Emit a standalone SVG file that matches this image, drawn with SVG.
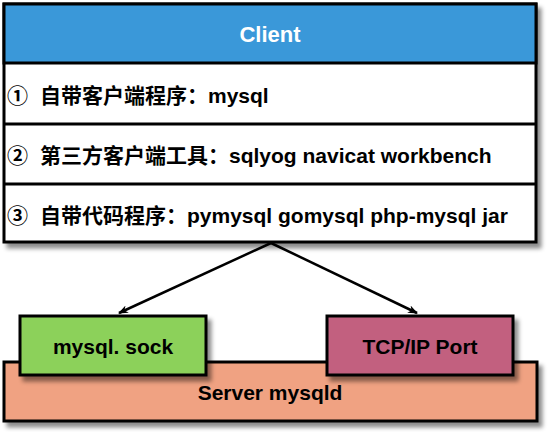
<svg xmlns="http://www.w3.org/2000/svg" width="548" height="432" viewBox="0 0 548 432">
<defs>
<filter id="sh" x="-10%" y="-10%" width="130%" height="140%">
<feDropShadow dx="4" dy="5" stdDeviation="2" flood-color="#000" flood-opacity="0.45"/>
</filter>
<marker id="ar" markerWidth="10" markerHeight="10" refX="9" refY="5" orient="auto" markerUnits="userSpaceOnUse">
<path d="M0,1 L10,5 L0,9 L3,5 z" fill="#000"/>
</marker>
</defs>
<style>
.box{stroke:#000;stroke-width:3}
.t{font-family:"Liberation Sans","Noto Sans CJK SC",sans-serif;font-weight:bold;font-size:21px;fill:#000}
.c{text-anchor:middle}
.e{stroke:#000;stroke-width:2.5;fill:none}
</style>
<rect width="548" height="432" fill="#fff"/>
<g id="server">
<rect class="box" x="4" y="362" width="533" height="59" fill="#F0A282" filter="url(#sh)"/>
<text class="t c" x="270" y="400">Server mysqld</text>
</g>
<g id="sock">
<rect class="box" x="20" y="316" width="186" height="59" fill="#8CD15A" filter="url(#sh)"/>
<text class="t c" x="113" y="354">mysql. sock</text>
</g>
<g id="tcp">
<rect class="box" x="327" y="316" width="186" height="59" fill="#C2617F" filter="url(#sh)"/>
<text class="t c" x="420" y="354">TCP/IP Port</text>
</g>
<g id="client">
<rect class="box" x="4" y="4" width="532" height="238" fill="#fff" filter="url(#sh)"/>
<rect class="box" x="4" y="4" width="532" height="59" fill="#3A98D9"/>
<line class="box" x1="4" y1="124" x2="536" y2="124"/>
<line class="box" x1="4" y1="184" x2="536" y2="184"/>
<text class="t c" x="270" y="42" style="fill:#fff;font-size:22px">Client</text>
<text class="t" y="103"><tspan x="7">①</tspan><tspan x="40">自带客户端程序：mysql</tspan></text>
<text class="t" y="163"><tspan x="7">②</tspan><tspan x="40">第三方客户端工具：sqlyog navicat workbench</tspan></text>
<text class="t" y="223"><tspan x="7">③</tspan><tspan x="40">自带代码程序：pymysql gomysql php-mysql jar</tspan></text>
</g>
<g id="connectors">
<line class="e" x1="271" y1="243" x2="119" y2="313" marker-end="url(#ar)"/>
<line class="e" x1="271" y1="243" x2="417" y2="313" marker-end="url(#ar)"/>
</g>
</svg>
